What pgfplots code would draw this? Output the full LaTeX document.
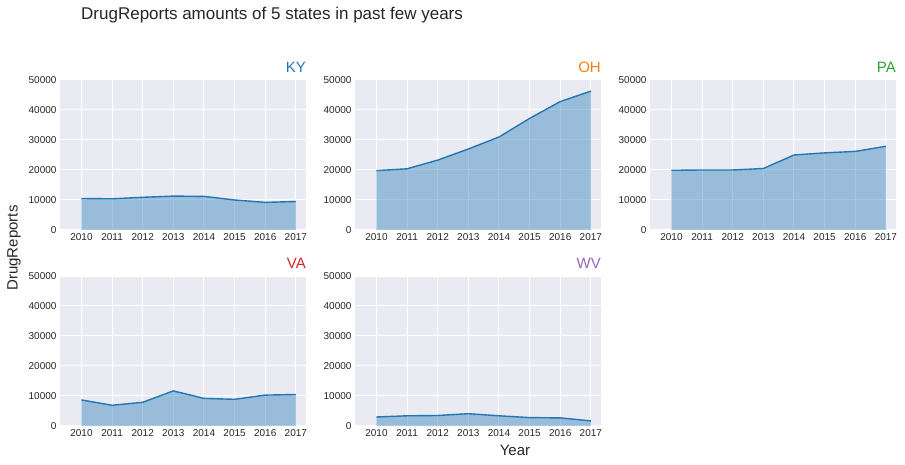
\documentclass[border=0pt]{standalone}
\usepackage{fontspec}
\setmainfont{Liberation Sans}
\usepackage{pgfplots}
\pgfplotsset{compat=1.18}
\definecolor{bgc}{HTML}{EAEAF2}
\definecolor{cA}{HTML}{1F77B4}
\definecolor{cB}{HTML}{FF7F0E}
\definecolor{cC}{HTML}{2CA02C}
\definecolor{cD}{HTML}{D62728}
\definecolor{cE}{HTML}{9467BD}
\definecolor{txt}{HTML}{262626}

\pgfplotsset{
  panel/.style={
    scale only axis, width=246pt, height=150pt,
    anchor=south west,
    xmin=2009.3, xmax=2017.33, ymin=0, ymax=50000,
    xtick={2010,...,2017}, ytick={0,10000,...,50000},
    grid=major, major grid style={white, line width=1pt},
    axis background/.style={fill=bgc},
    axis line style={draw=none},
    major tick length=0pt,
    tick label style={font=\fontsize{10}{10}\selectfont, text=txt},
    /pgf/number format/assume math mode=true,
    /pgf/number format/1000 sep={},
    scaled y ticks=false,
    title style={at={(1,1)}, anchor=south east, yshift=1pt, inner sep=0pt,
      font=\fontsize{15}{15}\selectfont},
  },
  area/.style={fill=cA, fill opacity=0.4, draw=none},
  curve/.style={cA, line width=1.4pt},
}

\begin{document}
\begin{tikzpicture}
\useasboundingbox (0,0) rectangle (905pt,465pt);

% KY
\begin{axis}[panel, at={(60pt,235pt)}, title={\textcolor{cA}{KY}}]
\addplot[area] coordinates {(2010,10500) (2011,10400) (2012,10900) (2013,11300) (2014,11200) (2015,10000) (2016,9200) (2017,9500)} \closedcycle;
\addplot[curve] coordinates {(2010,10500) (2011,10400) (2012,10900) (2013,11300) (2014,11200) (2015,10000) (2016,9200) (2017,9500)};
\end{axis}

% OH
\begin{axis}[panel, at={(355pt,235pt)}, title={\textcolor{cB}{OH}}]
\addplot[area] coordinates {(2010,19800) (2011,20400) (2012,23300) (2013,27000) (2014,31000) (2015,37200) (2016,42800) (2017,46300)} \closedcycle;
\addplot[curve] coordinates {(2010,19800) (2011,20400) (2012,23300) (2013,27000) (2014,31000) (2015,37200) (2016,42800) (2017,46300)};
\end{axis}

% PA
\begin{axis}[panel, at={(650pt,235pt)}, title={\textcolor{cC}{PA}}]
\addplot[area] coordinates {(2010,19900) (2011,20000) (2012,20000) (2013,20500) (2014,25000) (2015,25700) (2016,26200) (2017,27900)} \closedcycle;
\addplot[curve] coordinates {(2010,19900) (2011,20000) (2012,20000) (2013,20500) (2014,25000) (2015,25700) (2016,26200) (2017,27900)};
\end{axis}

% VA
\begin{axis}[panel, at={(60pt,39pt)}, title={\textcolor{cD}{VA}}]
\addplot[area] coordinates {(2010,8700) (2011,6900) (2012,7900) (2013,11700) (2014,9200) (2015,8900) (2016,10300) (2017,10500)} \closedcycle;
\addplot[curve] coordinates {(2010,8700) (2011,6900) (2012,7900) (2013,11700) (2014,9200) (2015,8900) (2016,10300) (2017,10500)};
\end{axis}

% WV
\begin{axis}[panel, at={(355pt,39pt)}, title={\textcolor{cE}{WV}}]
\addplot[area] coordinates {(2010,3000) (2011,3400) (2012,3500) (2013,4100) (2014,3400) (2015,2800) (2016,2700) (2017,1700)} \closedcycle;
\addplot[curve] coordinates {(2010,3000) (2011,3400) (2012,3500) (2013,4100) (2014,3400) (2015,2800) (2016,2700) (2017,1700)};
\end{axis}

\node[anchor=base west, inner sep=0pt, text=txt, font=\fontsize{17}{17}\selectfont]
  at (81pt,445pt) {DrugReports amounts of 5 states in past few years};
\node[rotate=90, inner sep=0pt, text=txt, font=\fontsize{15}{15}\selectfont]
  at (14pt,217pt) {DrugReports};
\node[inner sep=0pt, text=txt, font=\fontsize{15}{15}\selectfont]
  at (515pt,15pt) {Year};
\end{tikzpicture}
\end{document}
